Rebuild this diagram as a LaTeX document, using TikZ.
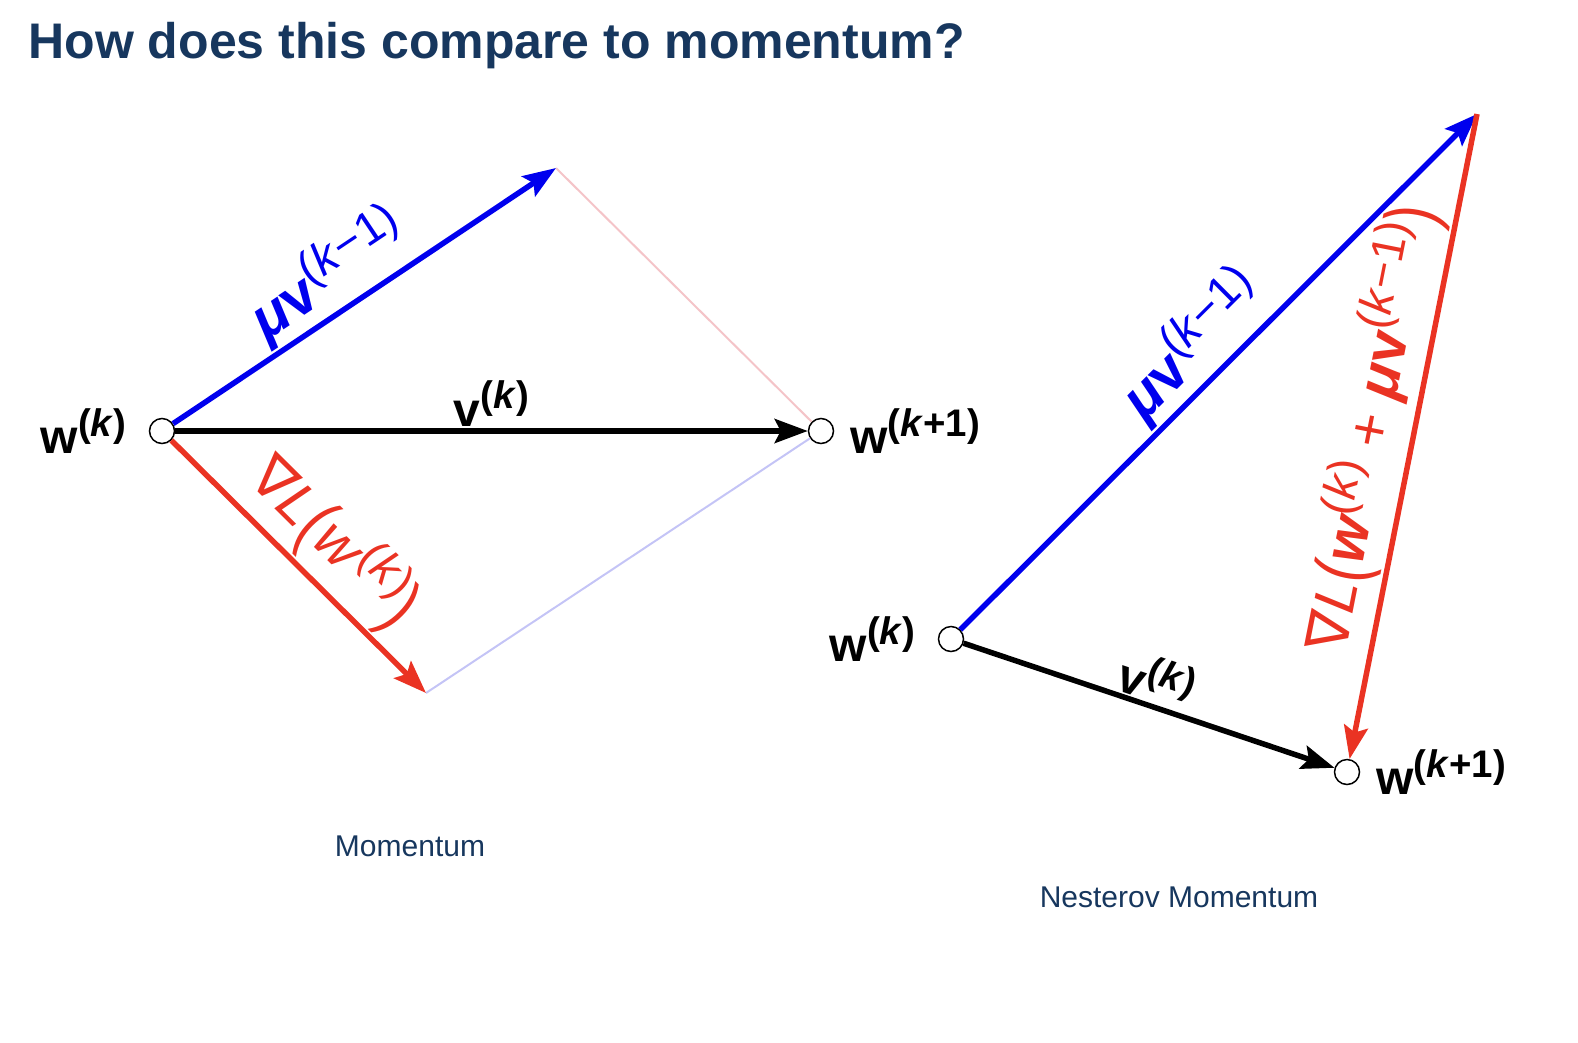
\documentclass[tikz,border=0pt]{standalone}
\usepackage{fontspec}
\setmainfont{Liberation Sans}
\newfontfamily\nablafont{DejaVu Sans}
\usepackage{graphicx}
\usetikzlibrary{arrows.meta,positioning}
\definecolor{navy}{HTML}{17375E}
\definecolor{vblue}{HTML}{0000EE}
\definecolor{gred}{HTML}{EA3323}
\definecolor{pinkline}{HTML}{F4C4C8}
\definecolor{lavline}{HTML}{C4C4F6}
\newcommand{\hsup}[1]{\raisebox{0.36em}{\scalebox{0.8}{#1}}}
\newcommand{\bigp}[1]{\raisebox{-0.08em}{\scalebox{1}[1.25]{#1}}}

\begin{document}
\begin{tikzpicture}[x=1pt,y=-1pt,
    pt/.style={circle,draw=black,line width=1.5pt,fill=white,minimum size=25pt,inner sep=0pt},
    lab/.style={font=\fontsize{48}{50}\selectfont\bfseries,inner sep=2pt},
    biglab/.style={font=\fontsize{58}{60}\selectfont,inner sep=2pt},
    arr/.style={line width=5.5pt,-{Stealth[length=33pt,width=24pt,inset=6pt]}},
    caption/.style={navy,font=\fontsize{30}{32}\selectfont}]
  \useasboundingbox (0,0) rectangle (1578,1042);
  \node[navy,anchor=base west,font=\fontsize{50}{52}\selectfont\bfseries] (title) at (25,58)
    {How does this compare to momentum?};

  % Momentum
  \node[pt] (wk) at (162,431) {};
  \node[pt] (wkk) at (821,431) {};
  \coordinate (mtip) at (556,168);
  \coordinate (gtip) at (426,693);
  \draw[pinkline,line width=2pt] (mtip) -- (wkk);
  \draw[lavline,line width=2pt] (gtip) -- (wkk);
  \draw[arr,vblue] (wk) -- node[sloped,above,pos=0.46,biglab,vblue]
    {\textbf{\textit{μ}v}\hsup{(\textit{k}−1)}} (mtip);
  \draw[arr,gred] (wk) -- node[sloped,above,pos=0.52,biglab,gred]
    {{\nablafont ∇}\textit{L}\bigp{(}\textit{w}\hsup{(\textit{k})}\bigp{)}} (gtip);
  \draw[arr,black] (wk) -- node[above,lab] {v\hsup{(\textit{k})}} (wkk);
  \node[lab,left=20pt of wk] (wklab) {w\hsup{(\textit{k})}};
  \node[lab,right=14pt of wkk] (wkklab) {w\hsup{(\textit{k}+1)}};
  \node[caption] (mcap) at (410,846) {Momentum};

  % Nesterov momentum
  \node[pt] (nwk) at (951,639) {};
  \node[pt] (nwkk) at (1347,772) {};
  \coordinate (ntip) at (1477,114);
  \draw[arr,vblue] (nwk) -- node[sloped,above,pos=0.5,biglab,vblue]
    {\textbf{\textit{μ}v}\hsup{(\textit{k}−1)}} (ntip);
  \draw[arr,gred] (ntip) -- node[sloped,above,pos=0.5,biglab,gred]
    {{\nablafont ∇}\textit{L}\bigp{(}{\bfseries\itshape w}\hsup{(\textit{k})}
     + \textit{\bfseries μ}\textbf{v}\hsup{(\textit{k}−1)}\bigp{)}} (nwkk);
  \draw[arr,black] (nwk) -- node[sloped,above,pos=0.5,lab] {v\hsup{(\textit{k})}} (nwkk);
  \node[lab,left=20pt of nwk] (nwklab) {w\hsup{(\textit{k})}};
  \node[lab,right=14pt of nwkk] (nwkklab) {w\hsup{(\textit{k}+1)}};
  \node[caption] (ncap) at (1179,897) {Nesterov Momentum};
\end{tikzpicture}
\end{document}
